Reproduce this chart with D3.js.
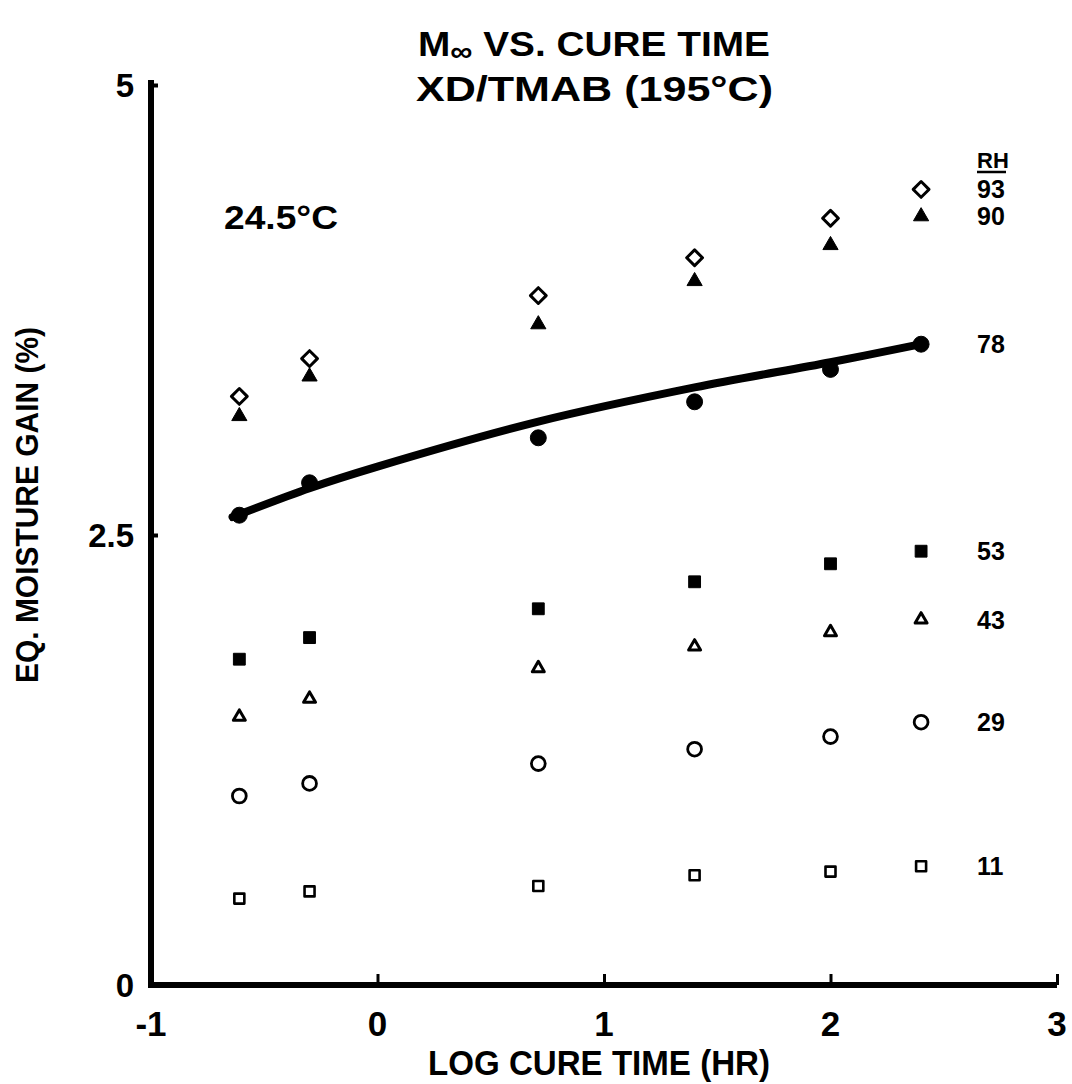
<!DOCTYPE html>
<html>
<head>
<meta charset="utf-8">
<script src="https://cdn.jsdelivr.net/npm/d3@7"></script>
<style>
  html, body { margin: 0; padding: 0; background: #fff; }
  svg { display: block; }
  text { font-family: "Liberation Sans", Arial, Helvetica, sans-serif; font-weight: bold; fill: #000; }
</style>
</head>
<body>
<svg id="chart" width="1072" height="1084"></svg>
<script>
// Log of cure time (hr) for the six cure times
const logCureTime = [-0.61, -0.3, 0.71, 1.4, 2.0, 2.4];

// Equilibrium moisture gain (%) at each relative humidity, 24.5 °C
const rh93 = [3.27, 3.48, 3.83, 4.04, 4.26, 4.42];
const rh90 = [3.16, 3.38, 3.67, 3.91, 4.11, 4.27];
const rh78 = [2.61, 2.79, 3.04, 3.24, 3.42, 3.56];
const rh53 = [1.81, 1.93, 2.09, 2.24, 2.34, 2.41];
const rh43 = [1.49, 1.59, 1.76, 1.88, 1.96, 2.03];
const rh29 = [1.05, 1.12, 1.23, 1.31, 1.38, 1.46];
const rh11 = [0.48, 0.52, 0.55, 0.61, 0.63, 0.66];

// Fitted curve through the 78 % RH data
const fitX = [-0.64, -0.3, 0.0, 0.71, 1.4, 2.0, 2.4];
const fitY = [2.60, 2.76, 2.88, 3.13, 3.32, 3.46, 3.56];

const xTicks = [-1, 0, 1, 2, 3];
const yTicks = [0, 2.5, 5];
const rhLabels = ["93", "90", "78", "53", "43", "29", "11"];

const svg = d3.select("#chart");
const x = d3.scaleLinear().domain([-1, 3]).range([151, 1057]);
const y = d3.scaleLinear().domain([0, 5]).range([985, 85]);

// Axes
const xAxis = d3.axisBottom(x).tickValues([0, 1, 2, 3]).tickSizeInner(-11).tickSizeOuter(0).tickFormat("");
svg.append("g").attr("transform", `translate(0,${y(0)})`).call(xAxis)
  .call(g => g.select(".domain").attr("stroke", "#000").attr("stroke-width", 6).attr("d", `M${x(-1) - 3},0H${x(3)}`))
  .call(g => g.selectAll(".tick line").attr("stroke", "#000").attr("stroke-width", 3));

const yAxis = d3.axisLeft(y).tickValues([2.5, 5]).tickSizeInner(-7).tickSizeOuter(0).tickFormat("");
svg.append("g").attr("transform", `translate(${x(-1)},0)`).call(yAxis)
  .call(g => g.select(".domain").attr("stroke", "#000").attr("stroke-width", 6).attr("d", `M0,${y(0) + 3}V${y(5) - 5}`))
  .call(g => g.selectAll(".tick line").attr("stroke", "#000").attr("stroke-width", 4));

// Tick labels
svg.append("g").selectAll("text").data(xTicks).join("text")
  .attr("x", d => x(d)).attr("y", 1036)
  .attr("text-anchor", "middle").attr("font-size", 35)
  .text(d => d < 0 ? "-" + Math.abs(d) : d);

svg.append("g").selectAll("text").data(yTicks).join("text")
  .attr("x", 134).attr("y", d => y(d) + 12)
  .attr("text-anchor", "end").attr("font-size", 33)
  .text(d => d);

// Axis titles
svg.append("text").attr("x", 599).attr("y", 1075).attr("text-anchor", "middle")
  .attr("font-size", 35).attr("textLength", 342).attr("lengthAdjust", "spacingAndGlyphs")
  .text("LOG CURE TIME (HR)");

svg.append("text").attr("transform", "translate(38,505) rotate(-90)").attr("text-anchor", "middle")
  .attr("font-size", 32).attr("textLength", 356).attr("lengthAdjust", "spacingAndGlyphs")
  .text("EQ. MOISTURE GAIN (%)");

// Chart title
const t1 = svg.append("text").attr("x", 418).attr("y", 56).attr("font-size", 35)
  .attr("textLength", 352).attr("lengthAdjust", "spacingAndGlyphs");
t1.append("tspan").text("M");
t1.append("tspan").attr("dy", 5).attr("font-size", 28).text("\u221E");
t1.append("tspan").attr("dy", -5).text(" VS. CURE TIME");

svg.append("text").attr("x", 416).attr("y", 101).attr("font-size", 35)
  .attr("textLength", 357).attr("lengthAdjust", "spacingAndGlyphs")
  .text("XD/TMAB (195\u00B0C)");

svg.append("text").attr("x", 224).attr("y", 229).attr("font-size", 33)
  .attr("textLength", 114).attr("lengthAdjust", "spacingAndGlyphs")
  .text("24.5\u00B0C");

// Fitted curve
const line = d3.line().x(d => x(d[0])).y(d => y(d[1])).curve(d3.curveCatmullRom.alpha(0.5));
svg.append("path").datum(fitX.map((v, i) => [v, fitY[i]]))
  .attr("d", line).attr("fill", "none").attr("stroke", "#000")
  .attr("stroke-width", 8).attr("stroke-linecap", "round");

// Data markers
const series = [
  { values: rh93, type: d3.symbolSquare, size: 125, fill: false, rotate: 45, sw: 3 },
  { values: rh90, type: d3.symbolTriangle, size: 100, fill: true, rotate: 0, sw: 1 },
  { values: rh78, type: d3.symbolCircle, size: 200, fill: true, rotate: 0, sw: 1 },
  { values: rh53, type: d3.symbolSquare, size: 140, fill: true, rotate: 0, sw: 1 },
  { values: rh43, type: d3.symbolTriangle, size: 62, fill: false, rotate: 0, sw: 3 },
  { values: rh29, type: d3.symbolCircle, size: 150, fill: false, rotate: 0, sw: 2.8 },
  { values: rh11, type: d3.symbolSquare, size: 100, fill: false, rotate: 0, sw: 2.6 }
];

series.forEach((s, k) => {
  const sym = d3.symbol().type(s.type).size(s.size);
  svg.append("g").selectAll("path").data(s.values).join("path")
    .attr("transform", (d, i) => `translate(${x(logCureTime[i])},${y(d)}) rotate(${s.rotate})`)
    .attr("d", sym)
    .attr("fill", s.fill ? "#000" : "#fff")
    .attr("stroke", "#000").attr("stroke-width", s.sw)
    .attr("stroke-linejoin", "round");

  // RH label beside the last point of each series
  svg.append("text").attr("x", 977).attr("y", y(s.values[s.values.length - 1]) + 9)
    .attr("font-size", 25).text(rhLabels[k]);
});

// Legend heading
svg.append("text").attr("x", 977).attr("y", 168).attr("font-size", 22).text("RH");
svg.append("line").attr("x1", 977).attr("x2", 1006).attr("y1", 172).attr("y2", 172)
  .attr("stroke", "#000").attr("stroke-width", 2.5);
</script>
</body>
</html>
